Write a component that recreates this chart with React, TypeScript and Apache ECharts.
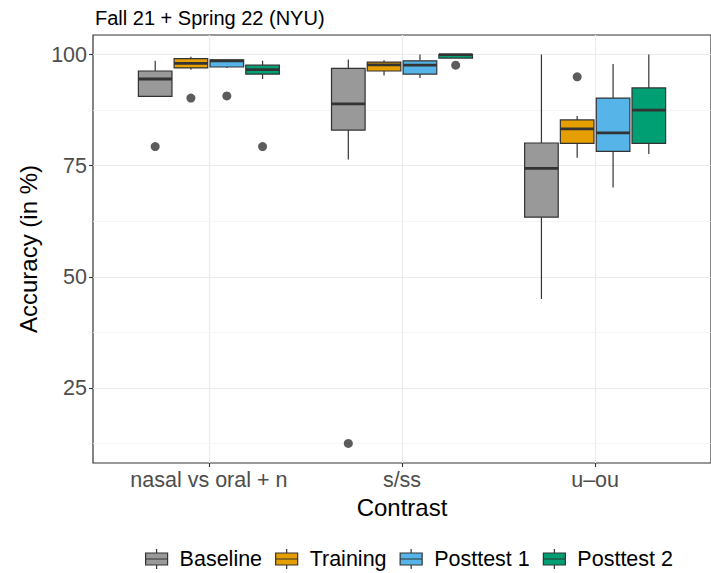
import React, { useEffect, useRef } from "react";
import * as echarts from "echarts";

const categories = ["nasal vs oral + n", "s/ss", "u–ou"];
const phases = ["Baseline", "Training", "Posttest 1", "Posttest 2"];
const phaseColors = ["#999999", "#E69F00", "#56B4E9", "#009E73"];
const yTicks = [25, 50, 75, 100];
const yMinorTicks = [12.5, 37.5, 62.5, 87.5];

// [min, q1, median, q3, max] per contrast
const baselineStats = [
  [90.6, 90.6, 94.5, 96.3, 98.6],
  [76.4, 83.0, 88.9, 96.9, 98.9],
  [45.0, 63.4, 74.4, 80.1, 100],
];
const trainingStats = [
  [96.6, 97.0, 98.0, 99.1, 99.5],
  [95.3, 96.3, 97.7, 98.3, 98.7],
  [76.8, 80.0, 83.3, 85.3, 86.2],
];
const posttest1Stats = [
  [97.0, 97.2, 98.6, 98.8, 98.8],
  [94.7, 95.6, 97.6, 98.6, 100],
  [70.1, 78.2, 82.4, 90.2, 97.9],
];
const posttest2Stats = [
  [94.5, 95.6, 96.6, 97.6, 98.6],
  [99.2, 99.2, 100, 100, 100],
  [77.6, 80.0, 87.5, 92.5, 100],
];
// outliers: [contrast index, value]
const baselineOutliers = [[0, 79.3], [1, 12.5]];
const trainingOutliers = [[0, 90.2], [2, 95.0]];
const posttest1Outliers = [[0, 90.7]];
const posttest2Outliers = [[0, 79.3], [1, 97.6]];

const allStats = [baselineStats, trainingStats, posttest1Stats, posttest2Stats];
const allOutliers = [baselineOutliers, trainingOutliers, posttest1Outliers, posttest2Outliers];

const DODGE = [-0.278, -0.093, 0.093, 0.278];
const HALF_W = 0.087;
const EDGE = "#333333";
const FONT = "'Liberation Sans', Arial, Helvetica, sans-serif";

export default function App() {
  const ref = useRef<HTMLDivElement>(null);
  useEffect(() => {
    if (!ref.current) return;
    const chart = echarts.init(ref.current, null, { renderer: "svg" });

    const boxSeries = phases.map((name, si) => ({
      name,
      type: "custom",
      z: 3,
      itemStyle: { color: phaseColors[si] },
      encode: { x: 0, y: [1, 2, 3, 4, 5] },
      data: allStats[si].map((s, ci) => [ci + 1, ...s]),
      renderItem: (params: any, api: any) => {
        const x = api.value(0) + DODGE[si];
        const pMin = api.coord([x, api.value(1)]);
        const pQ1 = api.coord([x, api.value(2)]);
        const pMed = api.coord([x, api.value(3)]);
        const pQ3 = api.coord([x, api.value(4)]);
        const pMax = api.coord([x, api.value(5)]);
        const left = api.coord([x - HALF_W, 50])[0];
        const right = api.coord([x + HALF_W, 50])[0];
        return {
          type: "group",
          children: [
            {
              type: "line",
              shape: { x1: pMin[0], y1: pMin[1], x2: pQ1[0], y2: pQ1[1] },
              style: { stroke: EDGE, lineWidth: 1.2 },
            },
            {
              type: "line",
              shape: { x1: pQ3[0], y1: pQ3[1], x2: pMax[0], y2: pMax[1] },
              style: { stroke: EDGE, lineWidth: 1.2 },
            },
            {
              type: "rect",
              shape: { x: left, y: pQ3[1], width: right - left, height: pQ1[1] - pQ3[1] },
              style: { fill: phaseColors[si], stroke: EDGE, lineWidth: 1.2 },
            },
            {
              type: "line",
              shape: { x1: left, y1: pMed[1], x2: right, y2: pMed[1] },
              style: { stroke: EDGE, lineWidth: 2.8 },
            },
          ],
        };
      },
    }));

    const outlierSeries = phases.map((name, si) => ({
      name: name + " outliers",
      type: "scatter",
      z: 4,
      symbolSize: 9,
      itemStyle: { color: EDGE },
      data: allOutliers[si].map(([ci, v]) => [ci + 1 + DODGE[si], v]),
    }));

    const gridSeries = {
      name: "grid",
      type: "scatter",
      z: 0,
      silent: true,
      data: [],
      markLine: {
        silent: true,
        z: 0,
        zlevel: 0,
        symbol: "none",
        label: { show: false },
        lineStyle: { color: "#F2F2F2", width: 0.8, type: "solid" },
        data: yMinorTicks.map((v) => ({ yAxis: v })),
      },
    };

    chart.setOption({
      animation: false,
      textStyle: { fontFamily: FONT },
      title: {
        text: "Fall 21 + Spring 22 (NYU)",
        left: 90,
        top: 3,
        textStyle: { fontFamily: FONT, fontSize: 20, fontWeight: "normal", color: "#000" },
      },
      grid: {
        left: 93,
        top: 35,
        width: 621,
        height: 428,
        show: true,
        borderColor: EDGE,
        borderWidth: 1.2,
        backgroundColor: "transparent",
      },
      legend: {
        data: phases,
        left: 140,
        top: 543,
        itemWidth: 29,
        itemHeight: 20,
        itemGap: 13,
        selectedMode: false,
        icon: "path://M11,0L11,4M0,4L22,4L22,16L0,16ZM0,10L22,10M11,16L11,20M29,10",
        itemStyle: { borderColor: EDGE, borderWidth: 1.2 },
        textStyle: { fontFamily: FONT, fontSize: 21.5, color: "#000" },
      },
      xAxis: {
        type: "value",
        min: 0.4,
        max: 3.6,
        name: "Contrast",
        nameLocation: "middle",
        nameGap: 29,
        nameTextStyle: { fontFamily: FONT, fontSize: 24, color: "#000" },
        axisLine: { show: false },
        axisTick: { show: true, length: 4, customValues: [1, 2, 3], lineStyle: { color: EDGE, width: 1.1 } },
        axisLabel: {
          customValues: [1, 2, 3],
          formatter: (v: number) => categories[Math.round(v) - 1] ?? "",
          fontFamily: FONT,
          fontSize: 21.5,
          color: "#4D4D4D",
          margin: 6,
        },
        splitLine: { show: true, lineStyle: { color: "#EBEBEB", width: 1.2 } },
      },
      yAxis: {
        type: "value",
        min: 8.1,
        max: 104.4,
        name: "Accuracy (in %)",
        nameLocation: "middle",
        nameGap: 50,
        nameTextStyle: { fontFamily: FONT, fontSize: 24, color: "#000" },
        axisLine: { show: false },
        axisTick: { show: true, length: 4, customValues: yTicks, lineStyle: { color: EDGE, width: 1.1 } },
        axisLabel: {
          customValues: yTicks,
          fontFamily: FONT,
          fontSize: 21.5,
          color: "#4D4D4D",
          margin: 6,
        },
        splitLine: { show: true, lineStyle: { color: "#EBEBEB", width: 1.2 } },
      },
      series: [gridSeries, ...boxSeries, ...outlierSeries],
    });
    return () => chart.dispose();
  }, []);
  return (
    <div
      ref={ref}
      style={{ position: "fixed", left: 0, top: 0, width: 711, height: 573, background: "#fff" }}
    />
  );
}
